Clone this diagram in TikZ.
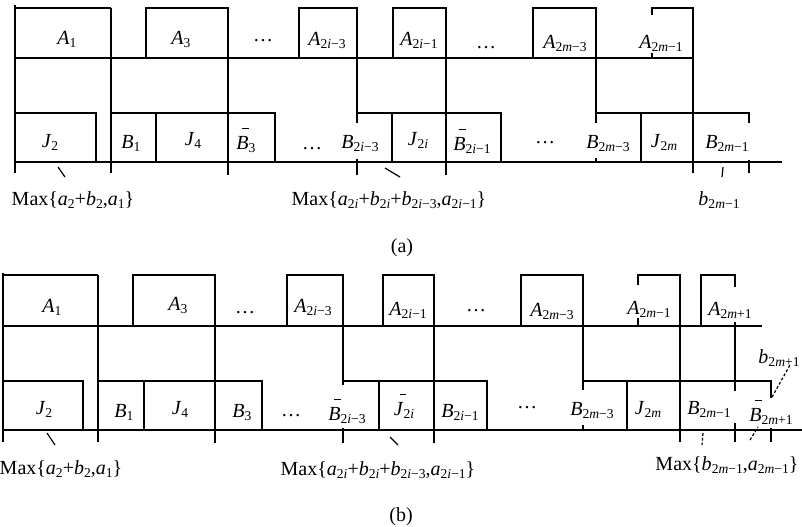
\documentclass[tikz,border=0pt]{standalone}
\usepackage{fontspec}
\setmainfont{Liberation Serif}
% italic variable, lowered index, minus sign, short bar over a letter
\newcommand\ital[1]{\textit{#1}}
\newcommand\sbs[1]{\raisebox{-0.18em}{\fontsize{6.8}{7}\selectfont #1}}
\newcommand\mi{−}
\newcommand\ovb[1]{\rlap{\kern0.3em\raisebox{1.0em}{\rule{0.33em}{0.06em}}}#1}
\begin{document}
\begin{tikzpicture}[x=0.5pt,y=-0.5pt,
  ln/.style={line width=1pt},
  tk/.style={line width=0.6pt},
  dsh/.style={line width=0.6pt,dash pattern=on 1.4pt off 1pt},
  lab/.style={anchor=base,inner sep=0pt,font=\fontsize{10}{12}\selectfont}]
\useasboundingbox (0,0) rectangle (802,526);

% ---------------- schedule (a) ----------------
% first machine row
\draw[ln] (15,5) -- (15,173);
\draw[ln] (15,8) -- (111,8);
\draw[ln] (111,8) -- (111,173);
\draw[ln] (146,58) |- (228,8) -- (228,175);
\draw[ln] (299,58) |- (357,8) -- (357,123);
\draw[ln] (357,159) -- (357,175);
\draw[ln] (393,58) |- (446,8) -- (446,175);
\draw[ln] (533,58) |- (596,8) -- (596,123);
\draw[ln] (596,158) -- (596,162);
\draw[ln] (652,15) |- (693,8) -- (693,173);
\draw[ln] (652,53) -- (652,58);
\draw[ln] (15,58) -- (693,58);
% second machine row
\draw[ln] (15,113) -| (96,162);
\draw[ln] (111,113) -- (275,113) -- (275,162);
\draw[ln] (156,113) -- (156,162);
\draw[ln] (357,113) -- (501,113) -- (501,162);
\draw[ln] (392,113) -- (392,162);
\draw[ln] (596,113) -- (749,113) -- (749,123);
\draw[ln] (749,160) -- (749,173);
\draw[ln] (641,113) -- (641,162);
\draw[ln] (15,162) -- (782,162);
% leader marks
\draw[tk] (58,167) -- (65,177);
\draw[tk] (385,168) -- (400,177);
\draw[tk] (723,167) -- (722,177);

% labels (a)
\node[lab] (aA1)   at (67,44)  {\ital{A}\sbs{1}};
\node[lab] (aA3)   at (181,44) {\ital{A}\sbs{3}};
\node[lab] (aD1)   at (263,41) {\ldots};
\node[lab] (aAi3)  at (327,45) {\ital{A}\sbs{2\ital{i}\mi3}};
\node[lab] (aAi1)  at (419,45) {\ital{A}\sbs{2\ital{i}\mi1}};
\node[lab] (aD2)   at (486,48) {\ldots};
\node[lab] (aAm3)  at (565,48) {\ital{A}\sbs{2\ital{m}\mi3}};
\node[lab] (aAm1)  at (661,48) {\ital{A}\sbs{2\ital{m}\mi1}};
\node[lab] (aJ2)   at (50,147)  {\ital{J}\sbs{2}};
\node[lab] (aB1)   at (131,148) {\ital{B}\sbs{1}};
\node[lab] (aJ4)   at (193,145) {\ital{J}\sbs{4}};
\node[lab] (aB3)   at (246,149) {\ital{\ovb{B}}\sbs{3}};
\node[lab] (aD3)   at (312,149) {\ldots};
\node[lab] (aBi3)  at (360,148) {\ital{B}\sbs{2\ital{i}\mi3}};
\node[lab] (aJi)   at (418,145) {\ital{J}\sbs{2\ital{i}}};
\node[lab] (aBi1)  at (472,150) {\ital{\ovb{B}}\sbs{2\ital{i}\mi1}};
\node[lab] (aD4)   at (545,143) {\ldots};
\node[lab] (aBm3)  at (608,148) {\ital{B}\sbs{2\ital{m}\mi3}};
\node[lab] (aJm)   at (664,147) {\ital{J}\sbs{2\ital{m}}};
\node[lab] (aBm1)  at (727,148) {\ital{B}\sbs{2\ital{m}\mi1}};
\node[lab] (aMx1)  at (73,205)  {Max\{\ital{a}\sbs{2}+\ital{b}\sbs{2},\ital{a}\sbs{1}\}};
\node[lab] (aMx2)  at (389,205) {Max\{\ital{a}\sbs{2\ital{i}}+\ital{b}\sbs{2\ital{i}}+\ital{b}\sbs{2\ital{i}\mi3},\ital{a}\sbs{2\ital{i}\mi1}\}};
\node[lab] (abm1)  at (719,205) {\ital{b}\sbs{2\ital{m}\mi1}};
\node[lab] (acapa) at (402,252) {(a)};

% ---------------- schedule (b) ----------------
% first machine row
\draw[ln] (3,273) -- (3,442);
\draw[ln] (3,275) -- (98,275);
\draw[ln] (98,275) -- (98,442);
\draw[ln] (133,326) |- (215,275) -- (215,443);
\draw[ln] (287,326) |- (343,275) -- (343,385);
\draw[ln] (343,428) -- (343,443);
\draw[ln] (383,326) |- (434,275) -- (434,443);
\draw[ln] (521,326) |- (583,275) -- (583,390);
\draw[ln] (583,425) -- (583,430);
\draw[ln] (638,285) |- (680,275) -- (680,442);
\draw[ln] (638,318) -- (638,326);
\draw[ln] (701,326) |- (735,275) -- (735,287);
\draw[ln] (735,322) -- (735,391);
\draw[ln] (735,423) -- (735,442);
\draw[ln] (3,326) -- (762,326);
% second machine row
\draw[ln] (3,381) -| (83,430);
\draw[ln] (98,381) -- (262,381) -- (262,430);
\draw[ln] (144,381) -- (144,430);
\draw[ln] (343,381) -- (487,381) -- (487,430);
\draw[ln] (379,381) -- (379,430);
\draw[ln] (583,381) -- (771,381) -- (771,398);
\draw[ln] (771,428) -- (771,442);
\draw[ln] (627,381) -- (627,430);
\draw[ln] (3,430) -- (802,430);
% leader marks
\draw[tk] (47,433) -- (55,445);
\draw[tk] (390,437) -- (398,445);
\draw[dsh] (703,433) -- (702,445);
\draw[dsh] (750,440) -- (758,427);
\coordinate (bcorner) at (772,397);

% labels (b)
\node[lab] (bA1)   at (52,312)  {\ital{A}\sbs{1}};
\node[lab] (bA3)   at (178,310) {\ital{A}\sbs{3}};
\node[lab] (bD1)   at (245,313) {\ldots};
\node[lab] (bAi3)  at (313,312) {\ital{A}\sbs{2\ital{i}\mi3}};
\node[lab] (bAi1)  at (408,315) {\ital{A}\sbs{2\ital{i}\mi1}};
\node[lab] (bD2)   at (476,311) {\ldots};
\node[lab] (bAm3)  at (552,316) {\ital{A}\sbs{2\ital{m}\mi3}};
\node[lab] (bAm1)  at (649,314) {\ital{A}\sbs{2\ital{m}\mi1}};
\node[lab] (bAp1)  at (730,315) {\ital{A}\sbs{2\ital{m}+1}};
\node[lab] (bJ2)   at (44,414)  {\ital{J}\sbs{2}};
\node[lab] (bB1)   at (124,417) {\ital{B}\sbs{1}};
\node[lab] (bJ4)   at (180,414) {\ital{J}\sbs{4}};
\node[lab] (bB3)   at (242,417) {\ital{B}\sbs{3}};
\node[lab] (bD3)   at (291,416) {\ldots};
\node[lab] (bBi3)  at (347,420) {\ital{\ovb{B}}\sbs{2\ital{i}\mi3}};
\node[lab] (bJi)   at (404,415) {\ital{\ovb{J}}\sbs{2\ital{i}}};
\node[lab] (bBi1)  at (460,417) {\ital{B}\sbs{2\ital{i}\mi1}};
\node[lab] (bD4)   at (527,408) {\ldots};
\node[lab] (bBm3)  at (592,415) {\ital{B}\sbs{2\ital{m}\mi3}};
\node[lab] (bJm)   at (648,414) {\ital{J}\sbs{2\ital{m}}};
\node[lab] (bBm1)  at (709,414) {\ital{B}\sbs{2\ital{m}\mi1}};
\node[lab] (bBp1)  at (771,421) {\ital{\ovb{B}}\sbs{2\ital{m}+1}};
\node[lab] (bbp1)  at (779,363) {\ital{b}\sbs{2\ital{m}+1}};
\draw[dsh] (bcorner) -- (790,365);
\node[lab] (bMx1)  at (61,474)  {Max\{\ital{a}\sbs{2}+\ital{b}\sbs{2},\ital{a}\sbs{1}\}};
\node[lab] (bMx2)  at (378,475) {Max\{\ital{a}\sbs{2\ital{i}}+\ital{b}\sbs{2\ital{i}}+\ital{b}\sbs{2\ital{i}\mi3},\ital{a}\sbs{2\ital{i}\mi1}\}};
\node[lab] (bMx3)  at (727,470) {Max\{\ital{b}\sbs{2\ital{m}\mi1},\ital{a}\sbs{2\ital{m}\mi1}\}};
\node[lab] (bcapb) at (401,521) {(b)};
\end{tikzpicture}
\end{document}
